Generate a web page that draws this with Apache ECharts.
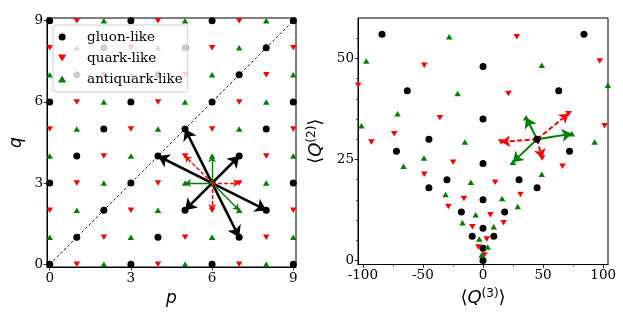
<!DOCTYPE html>
<html>
<head>
<meta charset="utf-8">
<script src="https://cdn.jsdelivr.net/npm/echarts@6/dist/echarts.min.js"></script>
<style>html,body{margin:0;padding:0;background:#fff}#chart{width:623px;height:312px}</style>
</head>
<body>
<div id="chart"></div>
<script>
// ---- left panel: (p, q) lattice ----
const gluonPQ = [[0,0],[3,0],[6,0],[9,0],[1,1],[4,1],[7,1],[2,2],[5,2],[8,2],[0,3],[3,3],[6,3],[9,3],[1,4],[4,4],[7,4],[2,5],[5,5],[8,5],[0,6],[3,6],[6,6],[9,6],[1,7],[4,7],[7,7],[2,8],[5,8],[8,8],[0,9],[3,9],[6,9],[9,9]];
const quarkPQ = [[1,0],[4,0],[7,0],[2,1],[5,1],[8,1],[0,2],[3,2],[6,2],[9,2],[1,3],[4,3],[7,3],[2,4],[5,4],[8,4],[0,5],[3,5],[6,5],[9,5],[1,6],[4,6],[7,6],[2,7],[5,7],[8,7],[0,8],[3,8],[6,8],[9,8],[1,9],[4,9],[7,9]];
const antiquarkPQ = [[2,0],[5,0],[8,0],[0,1],[3,1],[6,1],[9,1],[1,2],[4,2],[7,2],[2,3],[5,3],[8,3],[0,4],[3,4],[6,4],[9,4],[1,5],[4,5],[7,5],[2,6],[5,6],[8,6],[0,7],[3,7],[6,7],[9,7],[1,8],[4,8],[7,8],[2,9],[5,9],[8,9]];
const diagonal = [[0,0],[9,9]];
const originPQ = [6,3];
const blackTargetsPQ = [[4,4],[5,5],[7,4],[8,2],[7,1],[5,2]];
const greenTargetsPQ = [[6,4],[5,3],[7,2]];
const redTargetsPQ = [[5,4],[7,3],[6,2]];
const pqTicks = [0,3,6,9];

// ---- right panel: (<Q3>, <Q2>) ----
const gluonQ = [[0,0],[0,3],[0,8],[0,15],[0,24],[0,35],[0,48],[9,6],[-9,6],[18,12],[-18,12],[30,20],[-30,20],[45,30],[-45,30],[63,42],[-63,42],[84,56],[-84,56],[45,18],[-45,18],[72,27],[-72,27]];
const quarkQ = [[1.11,1.33],[3.11,5.33],[6.11,11.33],[10.11,19.33],[15.11,29.33],[21.11,41.33],[28.11,55.33],
  [17.11,9.33],[31.11,16.33],[49.11,25.33],[71.11,36.33],[97.11,49.33],[66.11,23.33],[101.11,33.33],
  [-3.89,3.33],[-8.89,8.33],[-15.89,15.33],[-24.89,24.33],[-35.89,35.33],[-48.89,48.33],
  [-28.89,13.33],[-48.89,21.33],[-73.89,31.33],[-103.89,43.33],[-92.89,29.33]];
const antiquarkQ = [[-1.11,1.33],[-3.11,5.33],[-6.11,11.33],[-10.11,19.33],[-15.11,29.33],[-21.11,41.33],[-28.11,55.33],
  [-17.11,9.33],[-31.11,16.33],[-49.11,25.33],[-71.11,36.33],[-97.11,49.33],[-66.11,23.33],[-101.11,33.33],
  [3.89,3.33],[8.89,8.33],[15.89,15.33],[24.89,24.33],[35.89,35.33],[48.89,48.33],
  [28.89,13.33],[48.89,21.33],[73.89,31.33],[103.89,43.33],[92.89,29.33]];
const originQ = [45,30];
const greenTargetsQ = [[24.89,24.33],[35.89,35.33],[73.89,31.33]];
const redTargetsQ = [[15.11,29.33],[71.11,36.33],[49.11,25.33]];
const q3Ticks = [-100,-50,0,50,100];
const q3Minor = [-75,-25,25,75];
const q2Ticks = [0,25,50];
const q2Minor = [5,10,15,20,30,35,40,45,55];

const RED = '#ff0000', GREEN = '#008000', BLACK = '#000000';
const DOWN = 'path://M0,0L20,0L10,17Z';
const UP = 'path://M10,0L20,17L0,17Z';
const SERIF = "'DejaVu Serif', serif";
const SANS = "'DejaVu Sans', sans-serif";

const labelStyle = {fontFamily: SERIF, fontSize: 13.5, color: '#000'};

function mainAxis(gridIndex, min, max, ticks, extra) {
  return Object.assign({
    type: 'value', gridIndex, min, max,
    axisLine: {show: true, onZero: false, lineStyle: {color: '#000', width: 1}},
    axisTick: {show: true, inside: false, length: 3.5, customValues: ticks, lineStyle: {color: '#000', width: 0.8}},
    axisLabel: Object.assign({show: true, margin: 4, customValues: ticks}, labelStyle),
    splitLine: {show: false}
  }, extra || {});
}
function minorAxis(gridIndex, min, max, ticks, position) {
  return {
    type: 'value', gridIndex, min, max, position, offset: 0,
    axisLine: {show: false, onZero: false},
    axisTick: {show: true, inside: false, length: 2, customValues: ticks, lineStyle: {color: '#000', width: 0.6}},
    axisLabel: {show: false}, splitLine: {show: false}
  };
}
function arrows(origin, targets) {
  return targets.map(t => ({coords: [origin, t]}));
}
function scatter(name, data, xi, symbol, size, color) {
  return {name, type: 'scatter', xAxisIndex: xi, yAxisIndex: xi, data, symbol, symbolSize: size,
    itemStyle: {color, opacity: 1}, z: 3, emphasis: {disabled: true}};
}

const chart = echarts.init(document.getElementById('chart'), null, {renderer: 'canvas'});
chart.setOption({
  animation: false,
  backgroundColor: '#fff',
  grid: [
    {left: 47, top: 18, width: 249, height: 249, show: true, borderColor: '#000', borderWidth: 1},
    {left: 358, top: 18, width: 250, height: 250, show: true, borderColor: '#000', borderWidth: 1}
  ],
  xAxis: [
    mainAxis(0, -0.1, 9.1, pqTicks, {name: 'p', nameLocation: 'middle', nameGap: 21,
      nameTextStyle: {fontFamily: SANS, fontStyle: 'italic', fontSize: 17, color: '#000'}}),
    mainAxis(1, -104, 104, q3Ticks, {name: '⟨{i|Q}{s|(3)}⟩', nameLocation: 'middle', nameGap: 23,
      nameTextStyle: {fontFamily: SANS, fontSize: 18, color: '#000',
        rich: {i: {fontFamily: SANS, fontStyle: 'italic', fontSize: 18, color: '#000'},
               s: {fontFamily: SANS, fontSize: 12, color: '#000', padding: [0,0,9,0]}}}}),
    minorAxis(1, -104, 104, q3Minor, 'bottom')
  ],
  yAxis: [
    mainAxis(0, -0.1, 9.1, pqTicks, {name: 'q', nameLocation: 'middle', nameGap: 22, nameRotate: 90,
      nameTextStyle: {fontFamily: SANS, fontStyle: 'italic', fontSize: 17, color: '#000'}}),
    mainAxis(1, -1, 60, q2Ticks, {name: '⟨{i|Q}{s|(2)}⟩', nameLocation: 'middle', nameGap: 31, nameRotate: 90,
      nameTextStyle: {fontFamily: SANS, fontSize: 18, color: '#000',
        rich: {i: {fontFamily: SANS, fontStyle: 'italic', fontSize: 18, color: '#000'},
               s: {fontFamily: SANS, fontSize: 12, color: '#000', padding: [0,0,9,0]}}}}),
    minorAxis(1, -1, 60, q2Minor, 'left')
  ],
  legend: {
    show: true, orient: 'vertical', left: 53, top: 25,
    data: ['gluon-like', 'quark-like', 'antiquark-like'],
    backgroundColor: 'rgba(255,255,255,0.8)', borderColor: '#cccccc', borderWidth: 1, borderRadius: 3,
    padding: [4, 5, 5, 5], itemGap: 5, itemWidth: 28, itemHeight: 7,
    textStyle: {fontFamily: SERIF, fontSize: 13.5, color: '#000', lineHeight: 16, padding: [0,0,0,6]},
    selectedMode: false
  },
  series: [
    {type: 'line', xAxisIndex: 0, yAxisIndex: 0, data: diagonal, symbol: 'none', silent: true,
      lineStyle: {color: '#000', width: 0.8, type: [3, 2]}, z: 1},
    scatter('gluon-like', gluonPQ, 0, 'circle', 7, BLACK),
    scatter('quark-like', quarkPQ, 0, DOWN, [6.5, 5.5], RED),
    scatter('antiquark-like', antiquarkPQ, 0, UP, [6.5, 5.5], GREEN),
    {type: 'lines', coordinateSystem: 'cartesian2d', xAxisIndex: 0, yAxisIndex: 0, z: 4,
      data: arrows(originPQ, blackTargetsPQ), symbol: ['none', 'arrow'], symbolSize: 11, symbolOffset: [0, 6],
      lineStyle: {color: BLACK, width: 2.6, opacity: 1}},
    {type: 'lines', coordinateSystem: 'cartesian2d', xAxisIndex: 0, yAxisIndex: 0, z: 5,
      data: arrows(originPQ, greenTargetsPQ), symbol: ['none', 'arrow'], symbolSize: 6,
      lineStyle: {color: GREEN, width: 1.4, opacity: 1}},
    {type: 'lines', coordinateSystem: 'cartesian2d', xAxisIndex: 0, yAxisIndex: 0, z: 5,
      data: arrows(originPQ, redTargetsPQ), symbol: ['none', 'arrow'], symbolSize: 6,
      lineStyle: {color: RED, width: 1.4, type: [4, 2], opacity: 1}},
    scatter('gluon-like', gluonQ, 1, 'circle', 7, BLACK),
    scatter('quark-like', quarkQ, 1, DOWN, [6.5, 5.5], RED),
    scatter('antiquark-like', antiquarkQ, 1, UP, [6.5, 5.5], GREEN),
    {type: 'lines', coordinateSystem: 'cartesian2d', xAxisIndex: 1, yAxisIndex: 1, z: 2,
      data: arrows(originQ, greenTargetsQ), symbol: ['none', 'arrow'], symbolSize: 10, symbolOffset: [0, 4],
      lineStyle: {color: GREEN, width: 2, opacity: 1}},
    {type: 'lines', coordinateSystem: 'cartesian2d', xAxisIndex: 1, yAxisIndex: 1, z: 2,
      data: arrows(originQ, redTargetsQ), symbol: ['none', 'arrow'], symbolSize: 9, symbolOffset: [0, 4],
      lineStyle: {color: RED, width: 2, type: [5, 2.5], opacity: 1}}
  ]
});
</script>
</body>
</html>
